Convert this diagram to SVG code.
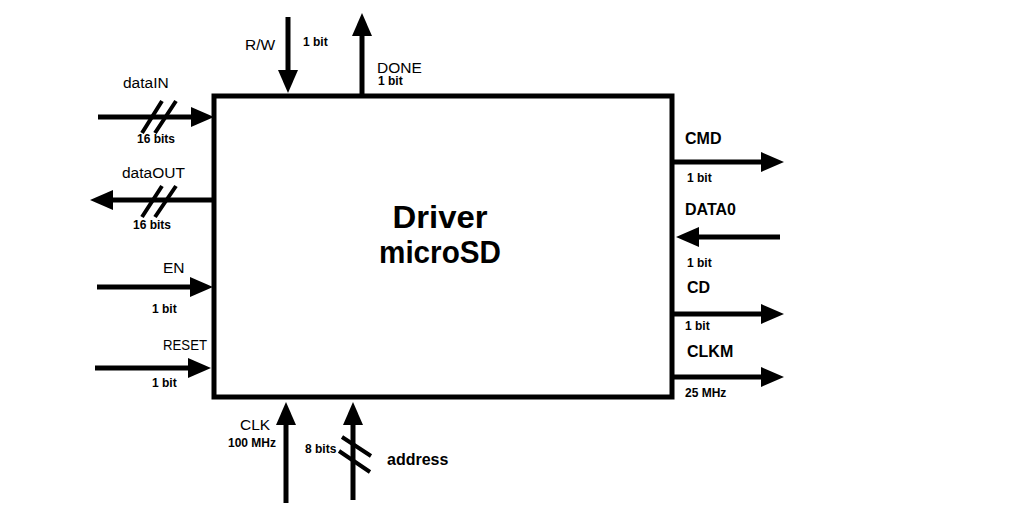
<svg xmlns="http://www.w3.org/2000/svg" width="1032" height="528" viewBox="0 0 1032 528">
<style>
.ln{stroke:#000;stroke-width:5;fill:none;marker-end:url(#ah)}
.sl{stroke:#000;stroke-width:4;fill:none}
.box{stroke:#000;stroke-width:5;fill:#fff}
text{font-family:"Liberation Sans",Arial,sans-serif;fill:#000}
.r{font-size:15.5px}
.s{font-size:12px;font-weight:bold}
.b{font-size:16px;font-weight:bold}
.t{font-size:32px;font-weight:bold}
</style>
<defs>
<marker id="ah" markerUnits="userSpaceOnUse" markerWidth="23" markerHeight="20" refX="0" refY="10" orient="auto" viewBox="0 0 23 20">
<path d="M0,0 L23,10 L0,20 z" fill="#000"/>
</marker>
</defs>
<rect width="1032" height="528" fill="#fff"/>
<g id="connectors">
<path class="ln" d="M98,117 H191"/>
<path class="ln" d="M214,200 H113"/>
<path class="ln" d="M97,287 H190"/>
<path class="ln" d="M95,368 H188"/>
<path class="ln" d="M288,17 V70"/>
<path class="ln" d="M362,96 V36"/>
<path class="ln" d="M286,503 V425"/>
<path class="ln" d="M353,500 V425"/>
<path class="ln" d="M672,162 H761"/>
<path class="ln" d="M780,237 H699"/>
<path class="ln" d="M672,314 H761"/>
<path class="ln" d="M672,377 H761"/>
<path class="sl" d="M142,133 L162,101 M155,133 L176,101"/>
<path class="sl" d="M142,217 L162,186 M155,217 L176,186"/>
<path class="sl" d="M342,437 L371,456 M339,451 L370,472"/>
</g>
<g id="driver">
<rect class="box" x="214" y="96" width="458" height="301"/>
<text class="t" x="440" y="228" text-anchor="middle" textLength="95" lengthAdjust="spacingAndGlyphs">Driver</text>
<text class="t" x="440" y="263" text-anchor="middle" textLength="122" lengthAdjust="spacingAndGlyphs">microSD</text>
</g>
<g id="dataIN"><text class="r" x="123" y="88">dataIN</text><text class="s" x="137" y="143">16 bits</text></g>
<g id="dataOUT"><text class="r" x="122" y="178">dataOUT</text><text class="s" x="133" y="229">16 bits</text></g>
<g id="EN"><text class="r" x="163" y="273">EN</text><text class="s" x="152" y="313">1 bit</text></g>
<g id="RESET"><text class="r" x="163" y="350" textLength="44" lengthAdjust="spacingAndGlyphs">RESET</text><text class="s" x="152" y="387">1 bit</text></g>
<g id="RW"><text class="r" x="245" y="50">R/W</text><text class="s" x="303" y="46">1 bit</text></g>
<g id="DONE"><text class="r" x="377" y="73">DONE</text><text class="s" x="378" y="85">1 bit</text></g>
<g id="CLK"><text class="r" x="240" y="430">CLK</text><text class="s" x="228" y="447">100 MHz</text></g>
<g id="address"><text class="s" x="305" y="453">8 bits</text><text class="b" x="387" y="465">address</text></g>
<g id="CMD"><text class="b" x="685" y="144">CMD</text><text class="s" x="687" y="182">1 bit</text></g>
<g id="DATA0"><text class="b" x="685" y="215">DATA0</text><text class="s" x="687" y="267">1 bit</text></g>
<g id="CD"><text class="b" x="687" y="293">CD</text><text class="s" x="685" y="330">1 bit</text></g>
<g id="CLKM"><text class="b" x="687" y="357">CLKM</text><text class="s" x="685" y="397">25 MHz</text></g>
</svg>
